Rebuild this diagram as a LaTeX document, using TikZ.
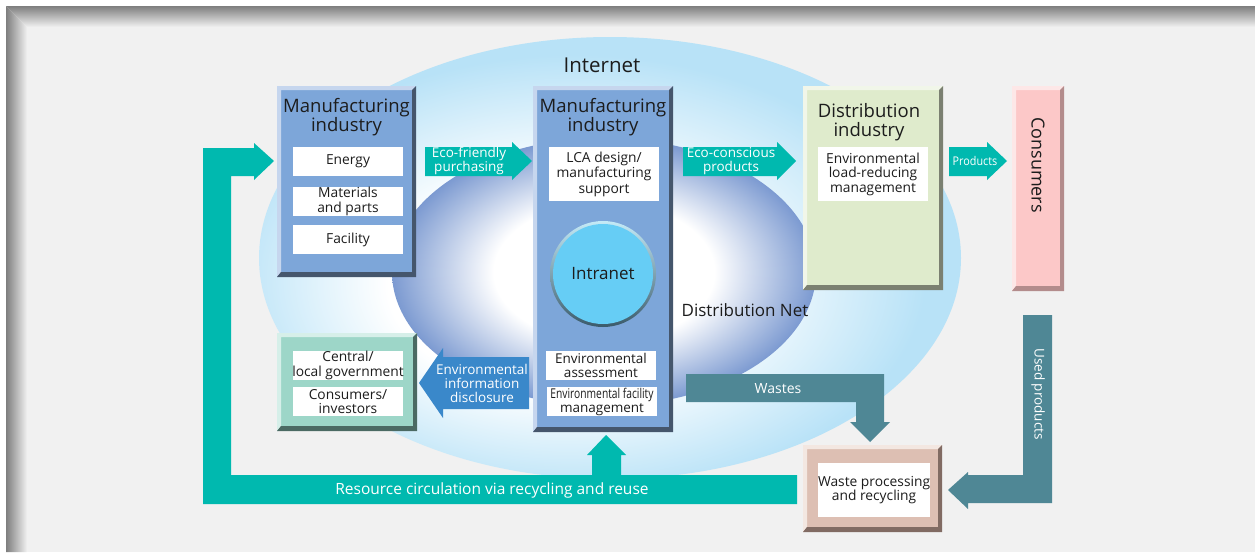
\documentclass[tikz,border=0pt]{standalone}
\usepackage{fontspec}
\usepackage{graphicx}
\setmainfont{Open Sans}
\usetikzlibrary{calc}
\definecolor{bgc}{HTML}{F1F1F1}
\definecolor{frameg}{HTML}{7E7E7E}
\definecolor{inetblue}{HTML}{B8E2F7}
\definecolor{distblue}{HTML}{7C9AD1}
\definecolor{mblue}{HTML}{7DA6D9}
\definecolor{mlight}{HTML}{C6D6EE}
\definecolor{mdark}{HTML}{45566C}
\definecolor{dgreen}{HTML}{DFEBCC}
\definecolor{dlight}{HTML}{F1F6E9}
\definecolor{ddark}{HTML}{7B8071}
\definecolor{cpink}{HTML}{FCC8C8}
\definecolor{clight}{HTML}{FDE7E7}
\definecolor{cdark}{HTML}{B38C8C}
\definecolor{gteal}{HTML}{9DD6C8}
\definecolor{glight}{HTML}{D6EFE9}
\definecolor{gdark}{HTML}{4B6A63}
\definecolor{wbrown}{HTML}{DDBFB3}
\definecolor{wlight}{HTML}{F3E7E1}
\definecolor{wdark}{HTML}{816B63}
\definecolor{teal}{HTML}{00B9AF}
\definecolor{dteal}{HTML}{4F8795}
\definecolor{infoblue}{HTML}{3A88CA}
\definecolor{intra}{HTML}{66CDF5}
\definecolor{ringlight}{HTML}{C4EAF7}
\definecolor{ringdark}{HTML}{3A5A6A}
\definecolor{txt}{HTML}{1C1C1C}
\pgfdeclareradialshading{inetshade}{\pgfpoint{-5bp}{-4bp}}{color(0bp)=(white); color(12bp)=(white); color(25bp)=(inetblue); color(50bp)=(inetblue)}
\pgfdeclareradialshading{distshade}{\pgfpoint{0bp}{0bp}}{color(0bp)=(white); color(13bp)=(white); color(25bp)=(distblue); color(50bp)=(distblue)}
\newcommand\bevel[3]{%
 \fill[#2] (#1.north west) -- (#1.north east) -- ++(-4,4) -- ($(#1.north west)+(4,4)$) -- ($(#1.south west)+(4,-4)$) -- (#1.south west) -- cycle;
 \fill[#3] (#1.south east) -- (#1.north east) -- ++(-4,4) -- ($(#1.south east)+(-4,-5)$) -- ($(#1.south west)+(4,-5)$) -- (#1.south west) -- cycle;}
\tikzset{
 bigbox/.style={anchor=north west, inner sep=0pt, outer sep=0pt},
 wbox/.style={anchor=north west, fill=white, inner sep=0pt, outer sep=0pt, minimum width=110, align=center, text=txt, font=\fontsize{13.8}{14.5}\selectfont},
 title/.style={align=center, text=txt, font=\fontsize{18.5}{19}\selectfont},
 alabel/.style={align=center, text=white, font=\fontsize{13.5}{13.5}\selectfont},
}
\begin{document}
\begin{tikzpicture}[x=1pt,y=-1pt]
\useasboundingbox (0,0) rectangle (1255,552);
\fill[white] (0,0) rectangle (1255,552);
\fill[bgc] (6,6) rectangle (1255,552);
\begin{scope}
 \clip (6,6) -- (1255,6) -- (1255,27) -- (27,27) -- cycle;
 \shade[top color=frameg, bottom color=bgc] (6,6) rectangle (1255,27);
\end{scope}
\begin{scope}
 \clip (6,6) -- (27,27) -- (27,552) -- (6,552) -- cycle;
 \shade[left color=frameg, right color=bgc] (6,6) rectangle (27,552);
\end{scope}
% ellipses
\path[shading=inetshade] (610,258) ellipse [x radius=351, y radius=221];
\path[shading=distshade] (604,272) ellipse [x radius=212, y radius=134];
\node[text=txt, font=\fontsize{20.5}{22}\selectfont] (internet) at (602,65) {Internet};
\node[text=txt, font=\fontsize{17}{18}\selectfont] (distnet) at (745,310) {Distribution Net};
% resource circulation
\fill[teal] (797,475) -- (231,475) -- (231,176) -- (254,176) -- (254,180) -- (274,161) -- (254,143) -- (254,148) -- (203,148) -- (203,504) -- (797,504) -- cycle;
\fill[teal] (592,476) -- (592,455) -- (587,455) -- (606,435) -- (626,455) -- (621,455) -- (621,476) -- cycle;
\node[text=white, font=\fontsize{15.5}{16}\selectfont] (reslabel) at (492,490) {Resource circulation via recycling and reuse};
% boxes
\node[bigbox, fill=mblue, minimum width=139, minimum height=191] (m1) at (277,86) {};
\bevel{m1}{mlight}{mdark}
\node[title] (m1t) at (346.5,117) {Manufacturing\\industry};
\node[wbox, minimum height=29] (energy) at (293,147) {Energy};
\node[wbox, minimum height=29] (mater) at (293,187) {Materials\\and parts};
\node[wbox, minimum height=29] (facil) at (293,225) {Facility};

\node[bigbox, fill=mblue, minimum width=140, minimum height=346] (m2) at (533,86) {};
\bevel{m2}{mlight}{mdark}
\node[title] (m2t) at (603,117) {Manufacturing\\industry};
\node[wbox, minimum height=54, font=\fontsize{13.8}{15.5}\selectfont] (lca) at (549,147) {LCA design/\\manufacturing\\support};
\shade[shading angle=-45, top color=ringlight, bottom color=ringdark] (603,274) circle [radius=53];
\node[circle, fill=intra, minimum size=100, inner sep=0pt, text=txt, font=\fontsize{17}{18}\selectfont] (intranet) at (603,274) {Intranet};
\node[wbox, minimum height=29, font=\fontsize{13.5}{14}\selectfont] (assess) at (546,351) {Environmental\\assessment};
\node[wbox, minimum height=29, font=\fontsize{13.5}{14}\selectfont] (efm) at (547,387) {\scalebox{0.76}[1]{Environmental facility}\\management};

\node[bigbox, fill=dgreen, minimum width=140, minimum height=204] (dist) at (803,86) {};
\bevel{dist}{dlight}{ddark}
\node[title] (distt) at (869,122) {Distribution\\industry};
\node[wbox, minimum height=54] (elrm) at (818,147) {Environmental\\load-reducing\\management};

\node[bigbox, fill=cpink, minimum width=52, minimum height=205] (cons) at (1012,86) {};
\bevel{cons}{clight}{cdark}
\node[text=txt, rotate=-90, font=\fontsize{18}{19}\selectfont] (const) at (1038,165) {Consumers};

\node[bigbox, fill=gteal, minimum width=140, minimum height=98] (gov) at (277,333) {};
\bevel{gov}{glight}{gdark}
\node[wbox, minimum height=29] (central) at (293,351) {Central/\\\hspace*{-4pt}local government\hspace*{-4pt}};
\node[wbox, minimum height=29] (invest) at (293,387) {Consumers/\\investors};

\node[bigbox, fill=wbrown, minimum width=139, minimum height=87] (waste) at (803,445) {};
\bevel{waste}{wlight}{wdark}
\node[wbox, minimum height=54] (wpr) at (818,463) {Waste processing\\and recycling};

% arrows
\fill[teal] (425,147) -- (512,147) -- (512,142) -- (532,161) -- (512,180) -- (512,176) -- (425,176) -- cycle;
\node[alabel] (ecofr) at (469,161) {Eco-friendly\\purchasing};
\fill[teal] (683,147) -- (777,147) -- (777,142) -- (796,161) -- (777,180) -- (777,176) -- (683,176) -- cycle;
\node[alabel] (ecoco) at (731,161) {Eco-conscious\\products};
\fill[teal] (949,147) -- (987,147) -- (987,142) -- (1007,161) -- (987,180) -- (987,176) -- (949,176) -- cycle;
\node[alabel, font=\fontsize{12}{13}\selectfont] (prod) at (975,161) {\scalebox{0.9}[1]{Products}};

\fill[infoblue] (529,357) -- (443,357) -- (443,348) -- (419,383) -- (443,418) -- (443,409) -- (529,409) -- cycle;
\node[alabel, font=\fontsize{13.5}{14}\selectfont] (info) at (482,383) {Environmental\\information\\disclosure};

\fill[dteal] (686,374) -- (884,374) -- (884,422) -- (890,422) -- (870,442) -- (850,422) -- (856,422) -- (856,402) -- (686,402) -- cycle;
\node[text=white, font=\fontsize{14}{15}\selectfont] (wastes) at (778,389) {Wastes};

\fill[dteal] (1023,315) -- (1052,315) -- (1052,503) -- (968,503) -- (968,509) -- (948,490) -- (968,472) -- (968,475) -- (1023,475) -- cycle;
\node[text=white, rotate=-90, font=\fontsize{13.5}{14}\selectfont] (used) at (1038,394) {Used products};
\end{tikzpicture}
\end{document}
